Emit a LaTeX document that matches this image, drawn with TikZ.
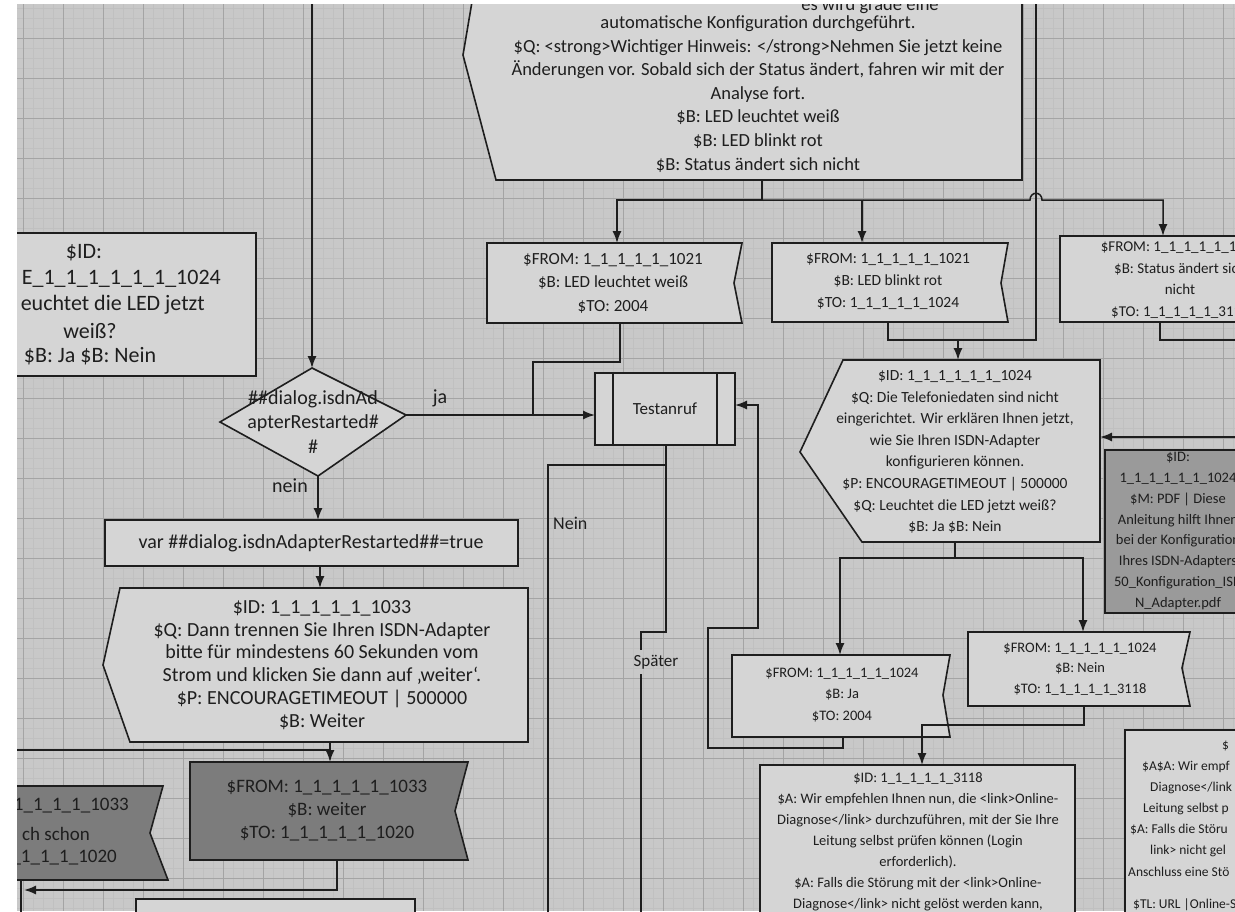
\documentclass[tikz,border=0pt]{standalone}
\usepackage{fontspec}
\setmainfont{Carlito}
\usetikzlibrary{arrows.meta}
\definecolor{bgc}{HTML}{C8C8C8}
\definecolor{boxc}{HTML}{D5D5D5}
\definecolor{darkc}{HTML}{7C7C7C}
\definecolor{midc}{HTML}{9A9A9A}
\definecolor{linec}{HTML}{1E1E1E}
\definecolor{textc}{HTML}{1E1E1E}
\definecolor{majg}{HTML}{A4A4A4}
\definecolor{ming}{HTML}{C0C0C0}
\newcommand\fsz[2]{\fontsize{#1}{#2}\selectfont}
\tikzset{
  box/.style={draw=linec, line width=1.6pt, fill=boxc, line join=miter},
  darkbox/.style={box, fill=darkc},
  midbox/.style={box, fill=midc},
  conn/.style={draw=linec, line width=1.5pt},
  arr/.style={conn, -{Latex[length=12pt,width=9pt]}},
  txt/.style={text=textc, align=center, inner sep=0pt},
  majorline/.style={draw=majg, line width=0.9pt},
  minorline/.style={draw=ming, line width=0.35pt},
}
\begin{document}
\begin{tikzpicture}[x=1pt,y=-1pt]
\useasboundingbox (0,0) rectangle (1235,911);
\fill[white] (0,0) rectangle (1235,911);
\begin{scope}
\clip (17,4) rectangle (1235,911);
\fill[bgc] (17,4) rectangle (1235,911);
% grid
\foreach \x in {13,23,...,1233} \draw[minorline] (\x,0) -- (\x,911);
\foreach \y in {8,18,...,908} \draw[minorline] (0,\y) -- (1235,\y);
\foreach \x in {23,63,...,1223} \draw[majorline] (\x,0) -- (\x,911);
\foreach \y in {38,78,...,878} \draw[majorline] (0,\y) -- (1235,\y);

% ---------- top display box
\draw[box] (474,-10) -- (463,55) -- (496,180) -- (1022,180) -- (1022,-10) -- cycle;
\node[txt, font=\fsz{18.5}{23.6}, anchor=base] (topT0) at (870,10) {es wird grade eine};
\node[txt, font=\fsz{18.5}{23.6}] (topT) at (758,94) {automatische Konfiguration durchgeführt.\\
\$Q: <strong>Wichtiger Hinweis: </strong>Nehmen Sie jetzt keine\\
Änderungen vor. Sobald sich der Status ändert, fahren wir mit der\\
Analyse fort.\\
\$B: LED leuchtet weiß\\
\$B: LED blinkt rot\\
\$B: Status ändert sich nicht};

% ---------- three FROM boxes
\draw[box] (487,243) -- (742,243) -- (734,283) -- (742,323) -- (487,323) -- cycle;
\node[txt, font=\fsz{17}{23.5}] (b1) at (613,283) {\$FROM: 1\_1\_1\_1\_1\_1021\\ \$B: LED leuchtet weiß\\ \$TO: 2004};
\draw[box] (772,243) -- (1008,243) -- (1001,283) -- (1008,322) -- (772,322) -- cycle;
\node[txt, font=\fsz{15.5}{22}] (b2) at (888,282) {\$FROM: 1\_1\_1\_1\_1\_1021\\ \$B: LED blinkt rot\\ \$TO: 1\_1\_1\_1\_1\_1024};
\draw[box] (1060,236) rectangle (1245,322);
\node[txt, font=\fsz{15}{21.5}] (b3) at (1180,280) {\$FROM: 1\_1\_1\_1\_1\_1021\\ \$B: Status ändert sich\\ nicht\\ \$TO: 1\_1\_1\_1\_1\_3117};

\coordinate (tb) at (762,180);
\coordinate (j1) at (762,200);
\coordinate (j2) at (862,200);
\coordinate (b1in) at (617,243);
\coordinate (b2in) at (862,243);
\coordinate (b3in) at (1163,236);
\draw[conn] (tb) -- (j1);
\draw[arr] (j1) -| (b1in);
\draw[arr] (j2) -- (b2in);
\draw[arr] (j1) -- (1030,200) .. controls (1030,191) and (1042,191) .. (1042,200) -| (b3in);

% ---------- box 1024
\draw[box] (843,360) -- (1100,360) -- (1100,542) -- (862,542) -- (800,452) -- cycle;
\node[txt, font=\fsz{15.5}{21.6}] (b4) at (955,452) {\$ID: 1\_1\_1\_1\_1\_1\_1024\\
\$Q: Die Telefoniedaten sind nicht\\
eingerichtet. Wir erklären Ihnen jetzt,\\
wie Sie Ihren ISDN-Adapter\\
konfigurieren können.\\
\$P: ENCOURAGETIMEOUT | 500000\\
\$Q: Leuchtet die LED jetzt weiß?\\
\$B: Ja \$B: Nein};
\coordinate (m1) at (958,340);
\coordinate (b4in) at (958,360);
\draw[conn] (1036,-10) -- (1036,340) -- (m1);
\draw[conn] (888,322) -- (888,340) -- (m1);
\draw[arr] (m1) -- (b4in);
\coordinate (b4r) at (1100,437);
\draw[arr] (1240,437) -- (b4r);
\draw[conn] (1160,322) -- (1160,340) -- (1240,340);

% ---------- right ID box
\draw[midbox] (1105,450) rectangle (1245,613);
\node[txt, font=\fsz{14.5}{20.8}] (b5) at (1178,531) {\$ID:\\ 1\_1\_1\_1\_1\_1\_1024\\ \$M: PDF | Diese\\ Anleitung hilft Ihnen\\ bei der Konfiguration\\ Ihres ISDN-Adapters\\ 50\_Konfiguration\_ISD\\ N\_Adapter.pdf};

% ---------- Ja / Nein boxes
\coordinate (s1) at (955,542);
\coordinate (s2) at (955,558);
\coordinate (b6in) at (840,655);
\coordinate (b7in) at (1083,632);
\draw[conn] (s1) -- (s2);
\draw[arr] (s2) -| (b6in);
\draw[arr] (s2) -| (b7in);
\draw[box] (732,655) -- (950,655) -- (943,695) -- (950,737) -- (732,737) -- cycle;
\node[txt, font=\fsz{14.5}{21.5}] (b6) at (842,695) {\$FROM: 1\_1\_1\_1\_1\_1024\\ \$B: Ja\\ \$TO: 2004};
\draw[box] (968,632) -- (1190,632) -- (1182,668) -- (1190,706) -- (968,706) -- cycle;
\node[txt, font=\fsz{14.5}{20.5}] (b7) at (1080,669) {\$FROM: 1\_1\_1\_1\_1\_1024\\ \$B: Nein\\ \$TO: 1\_1\_1\_1\_1\_3118};

% ---------- Testanruf
\draw[box] (595,373) rectangle (735,445);
\draw[conn] (613,373) -- (613,445);
\draw[conn] (717,373) -- (717,445);
\node[txt, font=\fsz{17}{20}] (ta) at (665,409) {Testanruf};
\coordinate (taw) at (595,415);
\coordinate (tae) at (735,405);
\coordinate (tab) at (666,445);
\draw[arr] (843,737) -- (843,748) -- (708,748) -- (708,628) -- (758,628) -- (758,405) -- (tae);
\draw[conn] (tab) -- (666,465) -- (548,465) -- (548,915);
\node[txt, font=\fsz{18}{20}, anchor=west] (lnein) at (553,523) {Nein};
\node[txt, font=\fsz{17}{20}] (lsp) at (656,662) {Später};
\draw[conn] (666,465) -- (666,632) -- (641,632) -- (641,650);
\draw[conn] (641,674) -- (641,915);

% ---------- 3118 box
\coordinate (n1) at (1084,706);
\coordinate (b8in) at (922,765);
\draw[arr] (n1) -- (1084,725) -| (b8in);
\draw[box] (760,765) rectangle (1075,930);
\node[txt, font=\fsz{14.5}{21}, anchor=north] (b8) at (918,772) {\$ID: 1\_1\_1\_1\_1\_3118\\
\$A: Wir empfehlen Ihnen nun, die <link>Online-\\
Diagnose</link> durchzuführen, mit der Sie Ihre\\
Leitung selbst prüfen können (Login\\
erforderlich).\\
\$A: Falls die Störung mit der <link>Online-\\
Diagnose</link> nicht gelöst werden kann,};

% ---------- right bottom box
\draw[box] (1125,730) rectangle (1250,930);
\begin{scope}[every node/.style={txt, font=\fsz{13.5}{16}, anchor=west}]
\node (r1) at (1222,746) {\$};
\node (r2) at (1142,767) {\$A\$A: Wir empf};
\node (r3) at (1150,788) {Diagnose</link};
\node (r4) at (1143,809) {Leitung selbst p};
\node (r5) at (1130,830) {\$A: Falls die Störu};
\node (r6) at (1150,851) {link> nicht gel};
\node (r7) at (1128,872) {Anschluss eine Stö};
\node (r8) at (1133,905) {\$TL: URL |Online-S};
\end{scope}

% ---------- left box
\draw[box] (0,233) rectangle (256,376);
\node[txt, font=\fsz{22}{25}] (lb1) at (84,253) {\$ID:};
\node[txt, font=\fsz{22}{25}, anchor=east] (lb2) at (221,279) {E\_1\_1\_1\_1\_1\_1\_1024};
\node[txt, font=\fsz{22}{25}, anchor=east] (lb3) at (205,305) {euchtet die LED jetzt};
\node[txt, font=\fsz{22}{25}] (lb4) at (90,331) {weiß?};
\node[txt, font=\fsz{22}{25}] (lb5) at (90,356) {\$B: Ja \$B: Nein};

% ---------- diamond
\coordinate (dtop) at (312,368);
\coordinate (dright) at (406,415);
\coordinate (dbot) at (318,476);
\coordinate (dleft) at (220,422);
\draw[box] (dtop) -- (dright) -- (dbot) -- (dleft) -- cycle;
\node[txt, font=\fsz{20}{24.5}] (dia) at (313,422) {\#\#dialog.isdnAd\\ apterRestarted\#\\ \#};
\node[txt, font=\fsz{20}{22}] (lja) at (440,398) {ja};
\node[txt, font=\fsz{20}{22}] (lnn) at (290,486) {nein};
\draw[arr] (312,-10) -- (dtop);
\draw[arr] (dright) -- (taw);
\draw[conn] (620,323) -- (620,362) -- (533,362) -- (533,415);

% ---------- var box
\coordinate (varin) at (318,520);
\draw[arr] (dbot) -- (varin);
\draw[box] (105,520) rectangle (518,566);
\node[txt, font=\fsz{20}{22}] (var) at (311,543) {var \#\#dialog.isdnAdapterRestarted\#\#=true};

% ---------- box 1033
\coordinate (varout) at (320,566);
\coordinate (b9in) at (320,588);
\draw[arr] (varout) -- (b9in);
\draw[box] (120,588) -- (528,588) -- (528,742) -- (130,742) -- (103,665) -- cycle;
\node[txt, font=\fsz{20}{22.8}] (b9) at (322,665) {\$ID: 1\_1\_1\_1\_1\_1033\\
\$Q: Dann trennen Sie Ihren ISDN-Adapter\\
bitte für mindestens 60 Sekunden vom\\
Strom und klicken Sie dann auf ‚weiter‘.\\
\$P: ENCOURAGETIMEOUT | 500000\\
\$B: Weiter};

% ---------- dark boxes
\coordinate (b9out) at (330,742);
\coordinate (j3) at (330,750);
\coordinate (b10in) at (330,762);
\draw[conn] (b9out) -- (j3);
\draw[arr] (j3) -- (b10in);
\draw[conn] (j3) -- (0,750);
\draw[darkbox] (190,762) -- (468,762) -- (455,811) -- (468,860) -- (190,860) -- cycle;
\node[txt, font=\fsz{19}{23}] (b10) at (327,811) {\$FROM: 1\_1\_1\_1\_1\_1033\\ \$B: weiter\\ \$TO: 1\_1\_1\_1\_1\_1020};
\draw[darkbox] (0,786) -- (163,786) -- (150,833) -- (168,880) -- (0,880) -- cycle;
\node[txt, font=\fsz{19}{23}, anchor=east] (b11a) at (129,806) {\$FROM: 1\_1\_1\_1\_1\_1033};
\node[txt, font=\fsz{19}{23}, anchor=east] (b11b) at (90,834) {ch schon};
\node[txt, font=\fsz{19}{23}, anchor=east] (b11c) at (117,858) {\$TO: 1\_1\_1\_1\_1\_1020};
\coordinate (b11out) at (21,880);
\coordinate (larr) at (24,890);
\draw[conn] (b11out) -- (21,915);
\draw[arr] (337,860) -- (337,890) -- (larr);
\draw[box] (136,899) rectangle (415,940);
\end{scope}
\end{tikzpicture}
\end{document}
